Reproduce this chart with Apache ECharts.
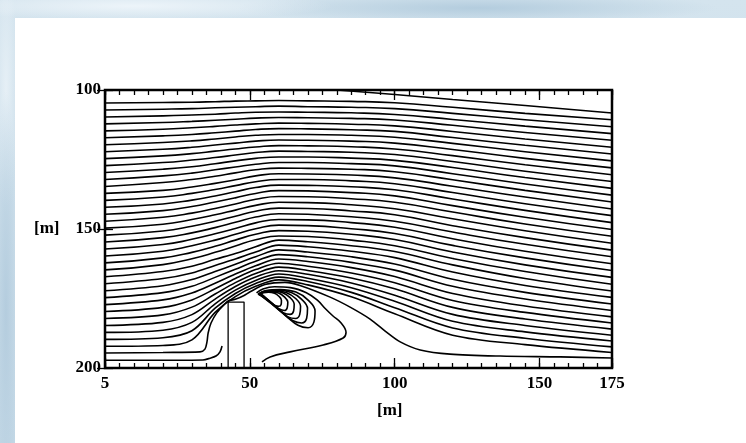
<!DOCTYPE html>
<html>
<head>
<meta charset="utf-8">
<script src="https://cdn.jsdelivr.net/npm/echarts@6/dist/echarts.min.js"></script>
<style>
html,body{margin:0;padding:0;width:746px;height:443px;overflow:hidden;}
body{
  background:
    radial-gradient(ellipse 200px 14px at 18% 6px, rgba(238,245,250,0.95), rgba(238,245,250,0)),
    radial-gradient(ellipse 240px 16px at 64% 8px, rgba(176,202,220,0.9), rgba(176,202,220,0)),
    radial-gradient(ellipse 12px 220px at 6px 70%, rgba(178,203,221,0.9), rgba(178,203,221,0)),
    radial-gradient(ellipse 12px 120px at 6px 20%, rgba(232,241,247,0.9), rgba(232,241,247,0)),
    linear-gradient(180deg,#d4e4ee,#c3d8e6);
}
#panel{position:absolute;left:15px;top:18px;right:0;bottom:0;background:#fff;}
#chart{position:absolute;left:0;top:0;width:746px;height:443px;}
</style>
</head>
<body>
<div id="panel"></div>
<div id="chart"></div>
<script>
// ---------- data ----------
const stationX = [0, 20, 30, 38, 45, 52, 60, 70, 85, 100, 120, 145, 175];

// outer streamlines, y at each station (upper part of the domain)
const upperLinesY = [
  [104.7,104.5,104.4,104.2,104.0,103.9,103.8,103.9,104.1,104.6,106.2,108.4,110.7],
  [107.2,106.9,106.7,106.4,106.2,106.0,105.8,106.0,106.2,106.7,108.4,110.7,113.2],
  [109.7,109.3,109.0,108.7,108.3,108.0,107.9,108.0,108.2,108.8,110.6,113.0,115.7],
  [112.2,111.7,111.3,110.9,110.5,110.1,109.9,110.0,110.2,110.8,112.7,115.3,118.1],
  [114.7,114.1,113.6,113.1,112.6,112.2,111.9,112.0,112.3,112.9,114.9,117.6,120.6],
  [117.2,116.5,116.0,115.4,114.8,114.2,113.9,114.0,114.3,114.9,117.1,119.9,123.0],
  [119.7,118.9,118.3,117.6,116.9,116.3,116.0,116.0,116.3,117.0,119.2,122.2,125.5],
  [122.2,121.3,120.6,119.8,119.1,118.4,118.0,118.1,118.4,119.1,121.4,124.6,128.0],
  [124.7,123.7,122.9,122.0,121.2,120.5,120.0,120.1,120.4,121.2,123.6,126.9,130.5],
  [127.2,126.1,125.2,124.3,123.4,122.5,122.0,122.1,122.4,123.2,125.7,129.2,132.9],
  [129.7,128.5,127.6,126.5,125.5,124.6,124.1,124.1,124.5,125.3,127.9,131.5,135.4],
  [132.2,130.9,129.9,128.7,127.7,126.7,126.1,126.1,126.5,127.3,130.1,133.8,137.8],
  [134.7,133.3,132.2,131.0,129.8,128.7,128.1,128.2,128.5,129.4,132.3,136.1,140.3],
  [137.2,136.1,134.9,133.6,132.3,130.9,130.1,130.2,130.6,131.6,134.6,138.5,142.8],
  [139.7,138.5,137.2,135.8,134.4,133.0,132.2,132.2,132.7,133.7,136.9,140.9,145.2],
  [142.2,141.0,139.6,138.1,136.6,135.1,134.2,134.3,134.8,135.9,139.2,143.3,147.7],
  [144.7,143.4,141.9,140.3,138.8,137.2,136.2,136.3,136.9,138.1,141.6,145.8,150.2],
  [147.2,145.8,144.3,142.6,141.0,139.3,138.3,138.4,139.1,140.4,143.9,148.2,152.6]
];

// outer streamlines, y at each station (lower part, deflected by the block)
const lowerLinesY = [
  [149.7,148.3,146.6,144.9,143.2,141.5,140.4,140.5,141.3,142.7,146.3,150.6,155.1],
  [152.2,150.7,149.0,147.2,145.4,143.6,142.5,142.6,143.5,144.9,148.8,153.1,157.6],
  [154.7,153.1,151.4,149.5,147.6,145.7,144.5,144.7,145.6,147.2,151.1,155.5,160.0],
  [157.2,155.6,153.7,151.7,149.8,147.8,146.6,146.7,147.7,149.4,153.5,158.0,162.5],
  [159.7,158.0,156.0,154.0,151.9,149.9,148.6,148.8,149.9,151.6,155.9,160.4,164.9],
  [162.2,160.4,158.4,156.2,154.0,151.9,150.6,150.8,151.9,153.8,158.3,162.9,167.4],
  [164.7,162.8,160.7,158.4,156.1,153.9,152.5,152.7,154.0,156.0,160.6,165.3,169.9],
  [167.2,165.3,163.4,160.9,158.8,156.4,154.0,154.6,156.0,158.1,162.9,167.8,172.3],
  [169.7,167.8,165.8,163.1,160.8,158.3,155.8,156.4,158.0,160.3,165.5,170.3,174.6],
  [172.2,170.4,168.2,165.3,162.7,160.0,157.5,158.3,160.0,162.6,168.1,172.8,177.0],
  [174.7,172.9,170.6,167.4,164.5,161.6,159.2,160.0,162.0,164.8,170.6,175.2,179.3],
  [177.2,175.5,173.0,169.5,166.2,163.2,160.8,161.7,163.9,167.1,173.2,177.7,181.6],
  [179.7,178.2,175.5,171.5,167.8,164.6,162.3,163.4,165.8,169.3,175.7,180.0,183.8],
  [182.2,180.9,178.1,173.4,169.3,166.0,163.7,164.9,167.6,171.5,178.2,182.4,186.0],
  [184.7,183.6,180.8,175.2,170.7,167.3,165.0,166.3,169.4,173.8,180.7,184.7,188.2],
  [187.2,186.4,183.6,176.9,172.0,168.5,166.2,167.7,171.1,176.0,183.2,187.0,190.3],
  [189.7,189.1,186.6,178.5,173.2,169.6,167.3,168.9,172.8,178.3,185.6,189.3,192.4],
  [192.2,191.9,189.9,180.0,174.3,170.6,168.3,170.1,174.4,180.5,188.2,191.6,194.4]
];

// line entering through the top boundary
const topEntryLine = [[80,100.0],[100,101.6],[120,103.4],[145,105.6],[175,108.3]];

// lowest through-flow line: over the block, reattaching near x=100
const dividingLine = [[0,194.6],[20,194.4],[32.8,194.2],[34.5,193.2],[35.2,190.6],[35.6,187.4],[36.6,183.8],[38.7,180.0],[41.0,177.3],[42.5,175.9],[45.2,175.2],[48.0,173.9],[50.1,172.6],[55.2,170.0],[62.1,169.2],[67.3,170.3],[77.7,174.5],[84.6,178.1],[91.5,182.4],[96.7,186.7],[101.9,190.6],[108.8,193.5],[119.1,195.0],[136.4,195.7],[157.1,196.0],[175,196.4]];

// small front-corner line ending before the block
const cornerLine = [[0,197.2],[20,197.2],[33.8,197.1],[36.2,196.5],[38.3,195.7],[39.7,194.2],[40.4,192.1]];

// outer recirculation line behind the block
const recircOuter = [[54.2,197.8],[57.0,196.0],[63.9,194.2],[75.3,191.7],[82.2,189.2],[83.2,187.1],[81.5,183.8],[78.7,181.3],[76.0,178.6],[73.3,175.6],[69.5,172.9],[64.0,171.1],[58.5,170.8],[54.5,171.6],[52.3,173.0]];

// nested closed vortex loops
const vortexLoop1 = [[52.8,173.4],[55.6,172.1],[60.4,171.8],[65.9,172.7],[70.1,175.6],[72.5,179.5],[72.1,183.5],[70.1,185.5],[66.6,184.6],[62.5,181.3],[58.0,177.4],[54.5,174.5],[52.8,173.4]];
const vortexLoop2 = [[53.0,173.4],[55.4,172.3],[59.5,172.0],[64.3,172.8],[67.9,175.3],[69.9,178.6],[69.6,182.1],[67.9,183.8],[64.9,183.0],[61.3,180.2],[57.5,176.8],[54.4,174.3],[53.0,173.4]];
const vortexLoop3 = [[53.2,173.4],[55.2,172.4],[58.7,172.2],[62.7,172.9],[65.8,175.0],[67.5,177.8],[67.2,180.8],[65.8,182.2],[63.2,181.6],[60.2,179.1],[57.0,176.3],[54.4,174.2],[53.2,173.4]];
const vortexLoop4 = [[53.3,173.4],[55.0,172.6],[57.9,172.4],[61.3,172.9],[63.9,174.7],[65.3,177.1],[65.1,179.5],[63.9,180.7],[61.7,180.2],[59.2,178.2],[56.5,175.8],[54.3,174.0],[53.3,173.4]];
const vortexLoop5 = [[53.5,173.4],[54.8,172.7],[57.2,172.6],[59.9,173.0],[61.9,174.4],[63.1,176.3],[62.9,178.3],[61.9,179.3],[60.2,178.8],[58.2,177.2],[56.0,175.3],[54.3,173.9],[53.5,173.4]];
const vortexLoop6 = [[53.6,173.3],[54.7,172.9],[56.4,172.7],[58.5,173.1],[60.0,174.2],[60.9,175.6],[60.8,177.1],[60.0,177.8],[58.7,177.5],[57.2,176.3],[55.5,174.8],[54.3,173.7],[53.6,173.3]];

// the block (building) outline
const buildingOutline = [[42.5,200],[42.5,176.3],[48.0,176.3],[48.0,200]];

// tick labels
const xLabelValues = [0, 50, 100, 150, 175];
const xLabelTexts = ['5', '50', '100', '150', '175'];
const yLabelValues = [100, 150, 200];
const yLabelTexts = ['100', '150', '200'];
const axisTitle = '[m]';

// ---------- chart ----------
const FONT = 'Liberation Serif';
const chart = echarts.init(document.getElementById('chart'));
const baseLine = {type:'line', symbol:'none', showSymbol:false, silent:true, clip:true,
  lineStyle:{color:'#000', width:1.6}, z:3};

const series = [];
upperLinesY.forEach(ys => {
  series.push(Object.assign({}, baseLine, {smooth:0.5,
    data: stationX.map((x, j) => [x, ys[j]])}));
});
lowerLinesY.forEach((ys, k) => {
  series.push(Object.assign({}, baseLine, {smooth: k < 7 ? 0.5 : 0.35,
    data: stationX.map((x, j) => [x, ys[j]])}));
});
[topEntryLine, dividingLine, cornerLine].forEach(d => {
  series.push(Object.assign({}, baseLine, {smooth:0.3, data:d}));
});
[recircOuter, vortexLoop1, vortexLoop2, vortexLoop3, vortexLoop4, vortexLoop5, vortexLoop6].forEach(d => {
  series.push(Object.assign({}, baseLine, {smooth:0.4, data:d}));
});
series.push(Object.assign({}, baseLine, {smooth:false, data:buildingOutline, lineStyle:{color:'#000', width:1.3}}));

const labelStyle = {color:'#000', fontFamily:FONT, fontWeight:'bold', fontSize:17};
function tickAxis(pos, interval, len) {
  return {type:'value', min:0, max:175, interval:interval, position:pos,
    axisLine:{show:false}, splitLine:{show:false}, axisLabel:{show:false},
    axisTick:{show:true, inside:true, length:len, lineStyle:{color:'#000', width:1.3}}};
}

chart.setOption({
  animation:false,
  backgroundColor:'transparent',
  grid:{left:105, right:134, top:90, bottom:75, show:true, borderColor:'#000', borderWidth:2.5, backgroundColor:'transparent', z:5},
  xAxis:[
    {type:'value', min:0, max:175, interval:25, position:'bottom',
      axisLine:{show:false}, axisTick:{show:false}, splitLine:{show:false},
      axisLabel:Object.assign({}, labelStyle, {margin:7, showMinLabel:true, showMaxLabel:true,
        formatter: v => { const i = xLabelValues.indexOf(v); return i >= 0 ? xLabelTexts[i] : ''; }})},
    tickAxis('bottom', 5, 5),
    tickAxis('bottom', 50, 10),
    tickAxis('top', 5, 5),
    tickAxis('top', 50, 10)
  ],
  yAxis:[
    {type:'value', min:100, max:200, interval:50, inverse:true, position:'left',
      axisLine:{show:false}, splitLine:{show:false},
      axisTick:{show:true, inside:true, length:8, lineStyle:{color:'#000', width:1.3}},
      axisLabel:Object.assign({}, labelStyle, {margin:4,
        formatter: v => { const i = yLabelValues.indexOf(v); return i >= 0 ? yLabelTexts[i] : ''; }})},
    {type:'value', min:100, max:200, interval:50, inverse:true, position:'right',
      axisLine:{show:false}, splitLine:{show:false}, axisLabel:{show:false},
      axisTick:{show:true, inside:true, length:8, lineStyle:{color:'#000', width:1.3}}}
  ],
  graphic:[
    {type:'text', left:34, top:220, style:{text:axisTitle, fill:'#000', font:'bold 17px "Liberation Serif"'}},
    {type:'text', left:377, top:402, style:{text:axisTitle, fill:'#000', font:'bold 17px "Liberation Serif"'}}
  ],
  series: series
});
</script>
</body>
</html>
